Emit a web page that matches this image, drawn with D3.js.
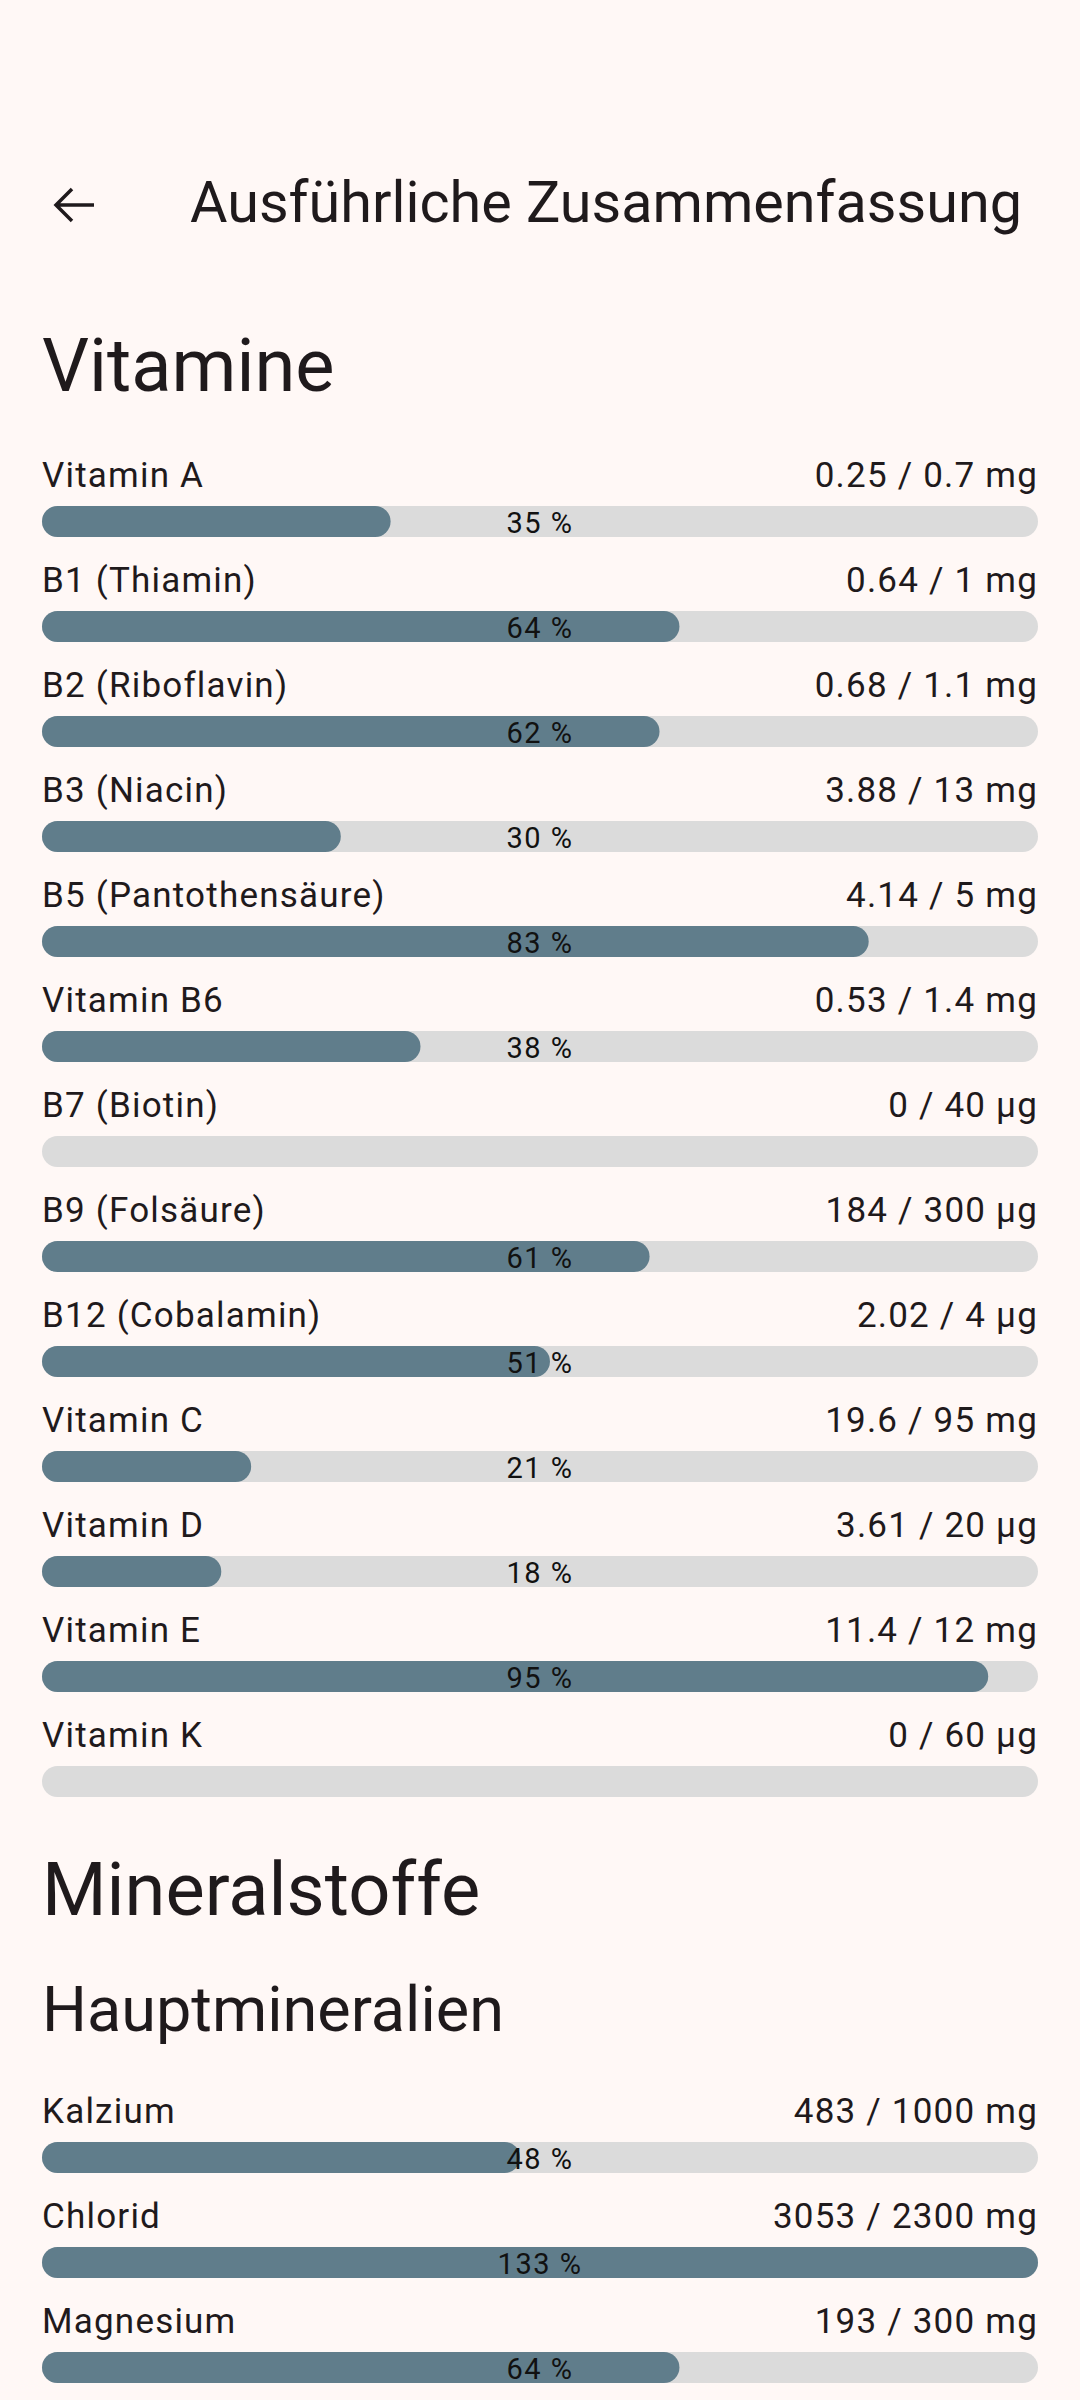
<!DOCTYPE html>
<html>
<head>
<meta charset="utf-8">
<script src="https://cdn.jsdelivr.net/npm/d3@7"></script>
<style>
body { margin: 0; background: #fff8f6; }
svg { display: block; font-family: Roboto, sans-serif; }
</style>
</head>
<body>
<svg width="1080" height="2400"></svg>
<script>
var vitNames = ["Vitamin A", "B1 (Thiamin)", "B2 (Riboflavin)", "B3 (Niacin)", "B5 (Pantothensäure)", "Vitamin B6",
    "B7 (Biotin)", "B9 (Folsäure)", "B12 (Cobalamin)", "Vitamin C", "Vitamin D", "Vitamin E", "Vitamin K"];
var vitAmounts = ["0.25 / 0.7 mg", "0.64 / 1 mg", "0.68 / 1.1 mg", "3.88 / 13 mg", "4.14 / 5 mg", "0.53 / 1.4 mg",
    "0 / 40 µg", "184 / 300 µg", "2.02 / 4 µg", "19.6 / 95 mg", "3.61 / 20 µg", "11.4 / 12 mg", "0 / 60 µg"];
var vitPct = [35, 64, 62, 30, 83, 38, 0, 61, 51, 21, 18, 95, 0];

var minNames = ["Kalzium", "Chlorid", "Magnesium"];
var minAmounts = ["483 / 1000 mg", "3053 / 2300 mg", "193 / 300 mg"];
var minPct = [48, 133, 64];

var svg = d3.select("svg");
var left = 42, right = 1038, rowH = 105;
var x = d3.scaleLinear().domain([0, 100]).range([left, right]).clamp(true);
var ink = "#1f1a1c";

// top bar
svg.append("path")
    .attr("d", "M94,205 H56 M72,189 L56,205 L72,221")
    .attr("fill", "none").attr("stroke", ink).attr("stroke-width", 3.5);
svg.append("text").attr("x", 190).attr("y", 222).attr("font-size", 57.5).attr("fill", ink)
    .text("Ausführliche Zusammenfassung");

svg.append("text").attr("x", 42).attr("y", 391).attr("font-size", 74).attr("fill", ink).text("Vitamine");
svg.append("text").attr("x", 42).attr("y", 1915).attr("font-size", 74).attr("fill", ink).text("Mineralstoffe");
svg.append("text").attr("x", 42).attr("y", 2031).attr("font-size", 63).attr("fill", ink).text("Hauptmineralien");

function rows(names, amounts, pct, y0) {
  var g = svg.append("g").selectAll("g").data(names).join("g")
      .attr("transform", function(d, i) { return "translate(0," + (y0 + i * rowH) + ")"; });
  g.append("text").attr("x", left).attr("font-size", 35).attr("letter-spacing", 1.2).attr("fill", ink)
      .text(function(d) { return d; });
  g.append("text").attr("x", right).attr("text-anchor", "end").attr("font-size", 35).attr("letter-spacing", 1.2)
      .attr("fill", ink).text(function(d, i) { return amounts[i]; });
  g.append("rect").attr("x", left).attr("y", 19).attr("width", right - left).attr("height", 31)
      .attr("rx", 15.5).attr("fill", "#dbdbdb");
  g.append("rect").attr("x", left).attr("y", 19)
      .attr("width", function(d, i) { return pct[i] > 0 ? x(pct[i]) - left : 0; })
      .attr("height", 31).attr("rx", 15.5).attr("fill", "#607d8b");
  g.filter(function(d, i) { return pct[i] > 0; })
    .append("text").attr("x", (left + right) / 2).attr("y", 46).attr("text-anchor", "middle")
      .attr("font-size", 29).attr("letter-spacing", 1.5).attr("fill", "#111")
      .text(function(d) { return pct[names.indexOf(d)] + " %"; });
}
rows(vitNames, vitAmounts, vitPct, 487);
rows(minNames, minAmounts, minPct, 2123);
</script>
</body>
</html>
